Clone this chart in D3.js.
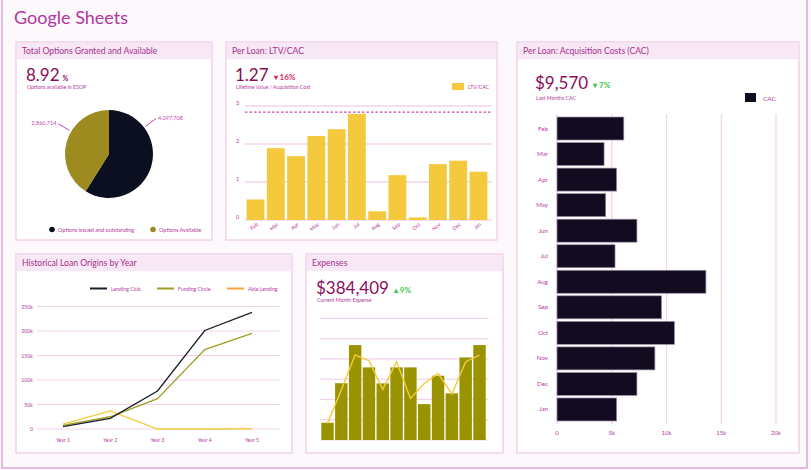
<!DOCTYPE html>
<html><head><meta charset="utf-8">
<script src="https://cdn.jsdelivr.net/npm/d3@7"></script>
<style>
body{margin:0;background:#fdf8fc;}
svg{display:block;font-family:Lato,"Open Sans",sans-serif;}
</style></head>
<body><svg id="c" width="811" height="470"></svg>
<script>
// ---------- data ----------
const pieLabels = ["Options issued and outstanding", "Options Available"];
const pieValues = [4097708, 2860714];

const months = ["Feb","Mar","Apr","May","Jun","Jul","Aug","Sep","Oct","Nov","Dec","Jan"];
const ltvValues = [0.54, 1.89, 1.68, 2.21, 2.39, 2.79, 0.23, 1.18, 0.07, 1.47, 1.56, 1.27];
const ltvTarget = 2.84;
const ltvTicks = [0, 1, 2, 3];

const cacValues = [6100, 4300, 5450, 4450, 7300, 5300, 13600, 9550, 10730, 8940, 7300, 5450];
const cacTicks = [0, 5000, 10000, 15000, 20000];
const cacTickLabels = ["0", "5k", "10k", "15k", "20k"];

const years = ["Year 1", "Year 2", "Year 3", "Year 4", "Year 5"];
const lendingClub = [4700, 21800, 77500, 201000, 238000];
const fundingCircle = [7500, 25000, 62000, 162000, 195000];
const ableLending = [10000, 37000, 0, 0, 500];
const loanSeries = ["Lending Club", "Funding Circle", "Able Lending"];
const loanTicks = [0, 50000, 100000, 150000, 200000, 250000];
const loanTickLabels = ["0", "50k", "100k", "150k", "200k", "250k"];

const expenseBars = [0.85, 2.8, 4.68, 3.58, 2.79, 3.58, 3.58, 1.77, 3.17, 2.3, 4.07, 4.68];
const expenseLine = [0.82, 2.46, 4.19, 3.91, 2.5, 3.86, 2.05, 2.79, 3.28, 2.27, 3.86, 4.19];
const expenseTicks = [0, 1, 2, 3, 4, 5, 6];

// ---------- styles ----------
const C = {
  title: "#b0369c", head: "#a4308f", big: "#8a0c5c", sub: "#b43a9c",
  panelBorder: "#efd2ea", headBg: "#f8e7f4", grid: "#f1d3ec",
  dark: "#0c0f1f", gold: "#9e8b1f", yellow: "#f4c93e", cac: "#130b1f",
  olive: "#9a9300", lineBlack: "#1b1d2b", lineOlive: "#a29b22", lineYellow: "#f3cb3a",
  legendOrange: "#f2a43a", red: "#e0245e", green: "#3cc84c"
};

const svg = d3.select("#c");
svg.append("rect").attr("x", 0).attr("y", 0).attr("width", 811).attr("height", 470).attr("fill", "#fdf8fc");
svg.append("rect").attr("x", 2).attr("y", -5).attr("width", 805).attr("height", 473)
  .attr("fill", "none").attr("stroke", "#dba6d3").attr("stroke-width", 1.5);

svg.append("text").attr("x", 14).attr("y", 24).attr("font-size", 18).attr("fill", C.title)
  .text("Google Sheets");

function panel(x, y, w, h, title) {
  const g = svg.append("g");
  g.append("rect").attr("x", x).attr("y", y).attr("width", w).attr("height", h)
    .attr("fill", "#fff").attr("stroke", C.panelBorder).attr("stroke-width", 1.5);
  g.append("rect").attr("x", x + 0.75).attr("y", y + 0.75).attr("width", w - 1.5).attr("height", 16.5)
    .attr("fill", C.headBg);
  g.append("text").attr("x", x + 6).attr("y", y + 12).attr("font-size", 8.6).attr("fill", C.head)
    .text(title);
  return g;
}
function kpi(g, x, y, big, deltaText, deltaColor, sub, subDy) {
  const t = g.append("text").attr("x", x).attr("y", y).attr("font-size", 17).attr("fill", C.big).text(big);
  const w = t.node().getComputedTextLength();
  g.append("text").attr("x", x + w + 5).attr("y", y - 1).attr("font-size", 8)
    .attr("font-weight", "bold").attr("fill", deltaColor).text(deltaText);
  g.append("text").attr("x", x + 1).attr("y", y + (subDy || 8)).attr("font-size", 5.2).attr("fill", C.sub).text(sub);
}

// ---------- Panel 1: pie ----------
{
  const g = panel(16, 42, 196, 198, "Total Options Granted and Available");
  const t = g.append("text").attr("x", 26).attr("y", 81).attr("font-size", 17).attr("fill", C.big).text("8.92");
  const w = t.node().getComputedTextLength();
  g.append("text").attr("x", 26 + w + 3).attr("y", 81).attr("font-size", 7).attr("font-weight", "bold").attr("fill", C.big).text("%");
  g.append("text").attr("x", 27).attr("y", 89).attr("font-size", 5.2).attr("fill", C.sub).text("Options available in ESOP");

  const cx = 109, cy = 154, r = 44;
  const colors = [C.dark, C.gold];
  const arcs = d3.pie().sort(null).value(d => d)(pieValues);
  const arc = d3.arc().innerRadius(0).outerRadius(r);
  const pg = g.append("g").attr("transform", `translate(${cx},${cy})`);
  pg.selectAll("path").data(arcs).join("path").attr("d", arc).attr("fill", (d, i) => colors[i]);
  const frac = [0.25, 0.6];
  const fmt = d3.format(",");
  arcs.forEach((a, i) => {
    const ang = a.startAngle + (a.endAngle - a.startAngle) * frac[i];
    const p = rr => [Math.sin(ang) * rr, -Math.cos(ang) * rr];
    const p1 = p(r + 2), p2 = p(r + 15);
    pg.append("line").attr("x1", p1[0]).attr("y1", p1[1]).attr("x2", p2[0]).attr("y2", p2[1])
      .attr("stroke", "#c548ac").attr("stroke-width", 1);
    const right = Math.sin(ang) > 0;
    pg.append("text").attr("x", p2[0] + (right ? 2 : -2)).attr("y", p2[1] + 1)
      .attr("text-anchor", right ? "start" : "end").attr("font-size", 5.5).attr("fill", "#c548ac")
      .text(fmt(pieValues[i]));
  });
  const lx = [52, 153];
  pieLabels.forEach((l, i) => {
    g.append("circle").attr("cx", lx[i]).attr("cy", 229.5).attr("r", 2.8).attr("fill", colors[i]);
    g.append("text").attr("x", lx[i] + 6).attr("y", 231.5).attr("font-size", 5.5).attr("fill", C.sub).text(l);
  });
}

// ---------- Panel 2: LTV/CAC ----------
{
  const g = panel(226, 42, 271, 198, "Per Loan: LTV/CAC");
  kpi(g, 235, 81, "1.27", "\u25BE 16%", C.red, "Lifetime Value / Acquisition Cost", 8);
  g.append("rect").attr("x", 452).attr("y", 83).attr("width", 12).attr("height", 7).attr("fill", C.yellow);
  g.append("text").attr("x", 468).attr("y", 89).attr("font-size", 5.2).attr("fill", C.sub).text("LTV/CAC");

  const x = d3.scaleBand().domain(months).range([246, 488]).paddingInner(0.12).paddingOuter(0.03);
  const y = d3.scaleLinear().domain([0, 3]).range([220, 106]);
  g.selectAll(".gl").data(ltvTicks).join("line")
    .attr("x1", 245).attr("x2", 492).attr("y1", d => y(d)).attr("y2", d => y(d))
    .attr("stroke", C.grid).attr("stroke-width", 1.5);
  g.selectAll(".tl").data(ltvTicks).join("text")
    .attr("x", 236).attr("y", d => y(d) - 1).attr("font-size", 5.5).attr("fill", C.sub).text(d => d);
  g.selectAll(".bar").data(ltvValues).join("rect")
    .attr("x", (d, i) => x(months[i])).attr("width", x.bandwidth())
    .attr("y", d => y(d)).attr("height", d => y(0) - y(d)).attr("fill", C.yellow);
  g.append("line").attr("x1", 245).attr("x2", 492).attr("y1", y(ltvTarget)).attr("y2", y(ltvTarget))
    .attr("stroke", "#c04aa6").attr("stroke-width", 1.2).attr("stroke-dasharray", "2.5,2");
  g.selectAll(".xl").data(months).join("text")
    .attr("transform", d => `translate(${x(d) + x.bandwidth() / 2 + 3},${225}) rotate(-40)`)
    .attr("text-anchor", "end").attr("font-size", 5.2).attr("fill", C.sub).text(d => d);
}

// ---------- Panel 3: CAC ----------
{
  const g = panel(517, 42, 282, 411, "Per Loan: Acquisition Costs (CAC)");
  kpi(g, 535, 89, "$9,570", "\u25BE 7%", C.green, "Last Months CAC", 11);
  g.append("rect").attr("x", 745).attr("y", 93).attr("width", 11).attr("height", 9).attr("fill", C.cac);
  g.append("text").attr("x", 763).attr("y", 100.5).attr("font-size", 6.5).attr("fill", C.sub).text("CAC");

  const x = d3.scaleLinear().domain([0, 20000]).range([557, 776]);
  const y = d3.scaleBand().domain(months).range([116, 422]).paddingInner(0.1).paddingOuter(0.04);
  g.selectAll(".gl").data(cacTicks).join("line")
    .attr("x1", d => x(d)).attr("x2", d => x(d)).attr("y1", 114).attr("y2", 424)
    .attr("stroke", C.grid).attr("stroke-width", 1.2);
  g.selectAll(".bar").data(cacValues).join("rect")
    .attr("x", x(0)).attr("y", (d, i) => y(months[i])).attr("height", y.bandwidth())
    .attr("width", d => x(d) - x(0)).attr("fill", C.cac).attr("stroke", "#9d90a6").attr("stroke-width", 0.7);
  g.selectAll(".yl").data(months).join("text")
    .attr("x", 548).attr("y", d => y(d) + y.bandwidth() / 2 + 2).attr("text-anchor", "end")
    .attr("font-size", 6.2).attr("fill", C.sub).text(d => d);
  g.selectAll(".xl").data(cacTicks).join("text")
    .attr("x", d => x(d)).attr("y", 435).attr("text-anchor", "middle")
    .attr("font-size", 6).attr("fill", C.sub).text((d, i) => cacTickLabels[i]);
}

// ---------- Panel 4: Historical ----------
{
  const g = panel(16, 254, 276, 199, "Historical Loan Origins by Year");
  const x = d3.scalePoint().domain(years).range([63, 252]);
  const y = d3.scaleLinear().domain([0, 250000]).range([429, 306.5]);
  g.selectAll(".gl").data(loanTicks).join("line")
    .attr("x1", 37).attr("x2", 280).attr("y1", d => y(d)).attr("y2", d => y(d))
    .attr("stroke", C.grid).attr("stroke-width", 1.2);
  g.selectAll(".yl").data(loanTicks).join("text")
    .attr("x", 33).attr("y", d => y(d) + 2).attr("text-anchor", "end")
    .attr("font-size", 5.2).attr("fill", C.sub).text((d, i) => loanTickLabels[i]);
  g.selectAll(".xl").data(years).join("text")
    .attr("x", d => x(d)).attr("y", 442).attr("text-anchor", "middle")
    .attr("font-size", 5.2).attr("fill", C.sub).text(d => d);
  const line = d3.line().x((d, i) => x(years[i])).y(d => y(d));
  const series = [ableLending, fundingCircle, lendingClub];
  const cols = [C.lineYellow, C.lineOlive, C.lineBlack];
  series.forEach((s, i) => {
    g.append("path").attr("d", line(s)).attr("fill", "none").attr("stroke", cols[i]).attr("stroke-width", 1.3);
  });
  const legCols = [C.lineBlack, C.lineOlive, C.legendOrange];
  const legX = [90, 157, 227];
  loanSeries.forEach((s, i) => {
    g.append("line").attr("x1", legX[i]).attr("x2", legX[i] + 17).attr("y1", 288.5).attr("y2", 288.5)
      .attr("stroke", legCols[i]).attr("stroke-width", 2);
    g.append("text").attr("x", legX[i] + 21).attr("y", 290.5).attr("font-size", 5.2).attr("fill", C.sub).text(s);
  });
}

// ---------- Panel 5: Expenses ----------
{
  const g = panel(306, 254, 197, 199, "Expenses");
  kpi(g, 316, 294, "$384,409", "\u25B4 9%", C.green, "Current Month Expense", 8);
  const x = d3.scaleBand().domain(d3.range(expenseBars.length)).range([321, 486]).paddingInner(0.1).paddingOuter(0.02);
  const y = d3.scaleLinear().domain([0, 6]).range([440, 318.3]);
  g.selectAll(".gl").data(expenseTicks).join("line")
    .attr("x1", 320).attr("x2", 488).attr("y1", d => y(d)).attr("y2", d => y(d))
    .attr("stroke", C.grid).attr("stroke-width", 1.2);
  g.selectAll(".bar").data(expenseBars).join("rect")
    .attr("x", (d, i) => x(i)).attr("width", x.bandwidth())
    .attr("y", d => y(d)).attr("height", d => y(0) - y(d)).attr("fill", C.olive);
  const line = d3.line().x((d, i) => x(i) + x.bandwidth() / 2).y(d => y(d));
  g.append("path").attr("d", line(expenseLine)).attr("fill", "none").attr("stroke", C.lineYellow).attr("stroke-width", 1.4);
}
</script></body></html>
